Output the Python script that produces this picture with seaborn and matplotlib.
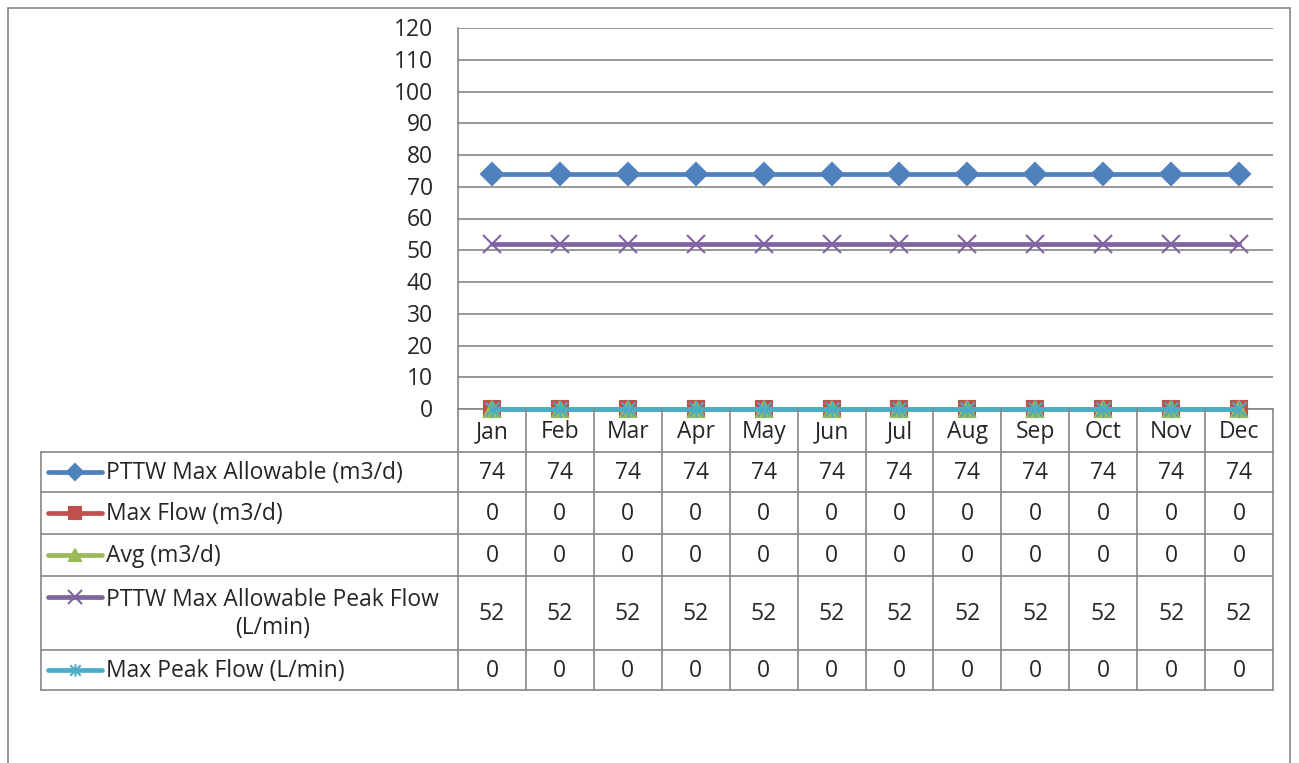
import numpy as np
import pandas as pd
import matplotlib
matplotlib.use("Agg")
import matplotlib.pyplot as plt
import matplotlib.transforms as mtransforms
import seaborn as sns
from matplotlib.patches import Rectangle
from matplotlib.path import Path

months = ["Jan", "Feb", "Mar", "Apr", "May", "Jun", "Jul", "Aug", "Sep", "Oct", "Nov", "Dec"]
pttw_max = [74, 74, 74, 74, 74, 74, 74, 74, 74, 74, 74, 74]
max_flow = [0, 0, 0, 0, 0, 0, 0, 0, 0, 0, 0, 0]
avg_flow = [0, 0, 0, 0, 0, 0, 0, 0, 0, 0, 0, 0]
pttw_peak = [52, 52, 52, 52, 52, 52, 52, 52, 52, 52, 52, 52]
max_peak = [0, 0, 0, 0, 0, 0, 0, 0, 0, 0, 0, 0]

series_names = ["PTTW Max Allowable (m3/d)", "Max Flow (m3/d)", "Avg (m3/d)",
                "PTTW Max Allowable Peak Flow\n(L/min)", "Max Peak Flow (L/min)"]
series_values = [pttw_max, max_flow, avg_flow, pttw_peak, max_peak]
colors = ["#4F81BD", "#C0504D", "#9BBB59", "#8064A2", "#4BACC6"]

# excel style star: an x with a vertical bar through it
star = Path([(-1, -1), (1, 1), (-1, 1), (1, -1), (0, -1.2), (0, 1.2)],
            [Path.MOVETO, Path.LINETO, Path.MOVETO, Path.LINETO, Path.MOVETO, Path.LINETO])
markers = ["D", "s", "^", "x", star]
msizes = [11, 11, 11, 13, 12]
leg_sizes = [8, 8, 9, 10, 9]

sns.set_style("white")
plt.rcParams["font.family"] = ["Open Sans", "DejaVu Sans"]
fs = 16.5

W, H = 1299, 763
fig = plt.figure(figsize=(W / 100, H / 100), dpi=100)

# outer chart border
fig.patches.append(Rectangle((8 / W, -0.05), (1290 - 8) / W, 1 - 8 / H + 0.05,
                             transform=fig.transFigure, fill=False,
                             edgecolor="#868686", linewidth=1.2))

px_l, px_r, px_t, px_b = 458, 1273, 28, 409
ax = fig.add_axes([px_l / W, 1 - px_b / H, (px_r - px_l) / W, (px_b - px_t) / H])

x = np.arange(len(months))
for name, vals, c, m, ms in zip(series_names, series_values, colors, markers, msizes):
    df = pd.DataFrame({"month": x, "value": vals})
    sns.lineplot(data=df, x="month", y="value", ax=ax, color=c, linewidth=3.4,
                 marker=m, markersize=ms, markeredgecolor=c, markeredgewidth=1.5,
                 clip_on=False, zorder=3)

ax.set_xlim(-0.5, 11.5)
ax.set_ylim(0, 120)
ax.set_yticks(range(0, 121, 10))
ax.set_xticks([])
ax.set_xlabel("")
ax.set_ylabel("")
ax.yaxis.grid(True, color="#868686", linewidth=1.2)
ax.tick_params(axis="y", labelsize=fs, length=0, pad=18)
shift = mtransforms.ScaledTranslation(0, -2 / 100, fig.dpi_scale_trans)
for lab in ax.get_yticklabels():
    lab.set_va("center")
    lab.set_transform(lab.get_transform() + shift)
for s in ["top", "right"]:
    ax.spines[s].set_visible(False)
for s in ["left", "bottom"]:
    ax.spines[s].set_color("#868686")
    ax.spines[s].set_linewidth(1.2)

# data table below the plot
tb_l, tb_b = 41, 690
col_w = (px_r - px_l) / 12.0
tax = fig.add_axes([tb_l / W, 1 - tb_b / H, (px_r - tb_l) / W, (tb_b - px_b) / H])
x_left = -0.5 - (px_l - tb_l) / col_w
tax.set_xlim(x_left, 11.5)
tax.set_ylim(tb_b, px_b)
tax.axis("off")

def px2x(p):
    return -0.5 + (p - px_l) / col_w

row_edges = [409, 452, 492, 534, 576, 650, 690]
lc = "#868686"
lw = 1.2
for y in row_edges[1:]:
    tax.plot([x_left, 11.5], [y, y], color=lc, lw=lw, clip_on=False)
for k in range(13):
    tax.plot([k - 0.5, k - 0.5], [409, 690], color=lc, lw=lw, clip_on=False)
tax.plot([x_left, x_left], [452, 690], color=lc, lw=lw, clip_on=False)

dy = 1
for i, mth in enumerate(months):
    tax.text(i, 431 + dy, mth, ha="center", va="center", fontsize=fs)

for r, (name, vals, c, m, ms) in enumerate(zip(series_names, series_values, colors, markers, leg_sizes)):
    yc = (row_edges[r + 1] + row_edges[r + 2]) / 2
    ly = yc if "\n" not in name else yc - 16
    tax.plot([px2x(48), px2x(102)], [ly, ly], color=c, lw=3.4, solid_capstyle="round", clip_on=False)
    tax.plot([px2x(75)], [ly], marker=m, markersize=ms, color=c, markeredgecolor=c,
             markeredgewidth=1.5, clip_on=False)
    tax.text(px2x(106), yc + dy, name, ha="left", va="center", fontsize=fs,
             multialignment="center", linespacing=1.25)
    for i, v in enumerate(vals):
        tax.text(i, yc + dy, str(v), ha="center", va="center", fontsize=fs)

fig.savefig("out.png", dpi=100)
